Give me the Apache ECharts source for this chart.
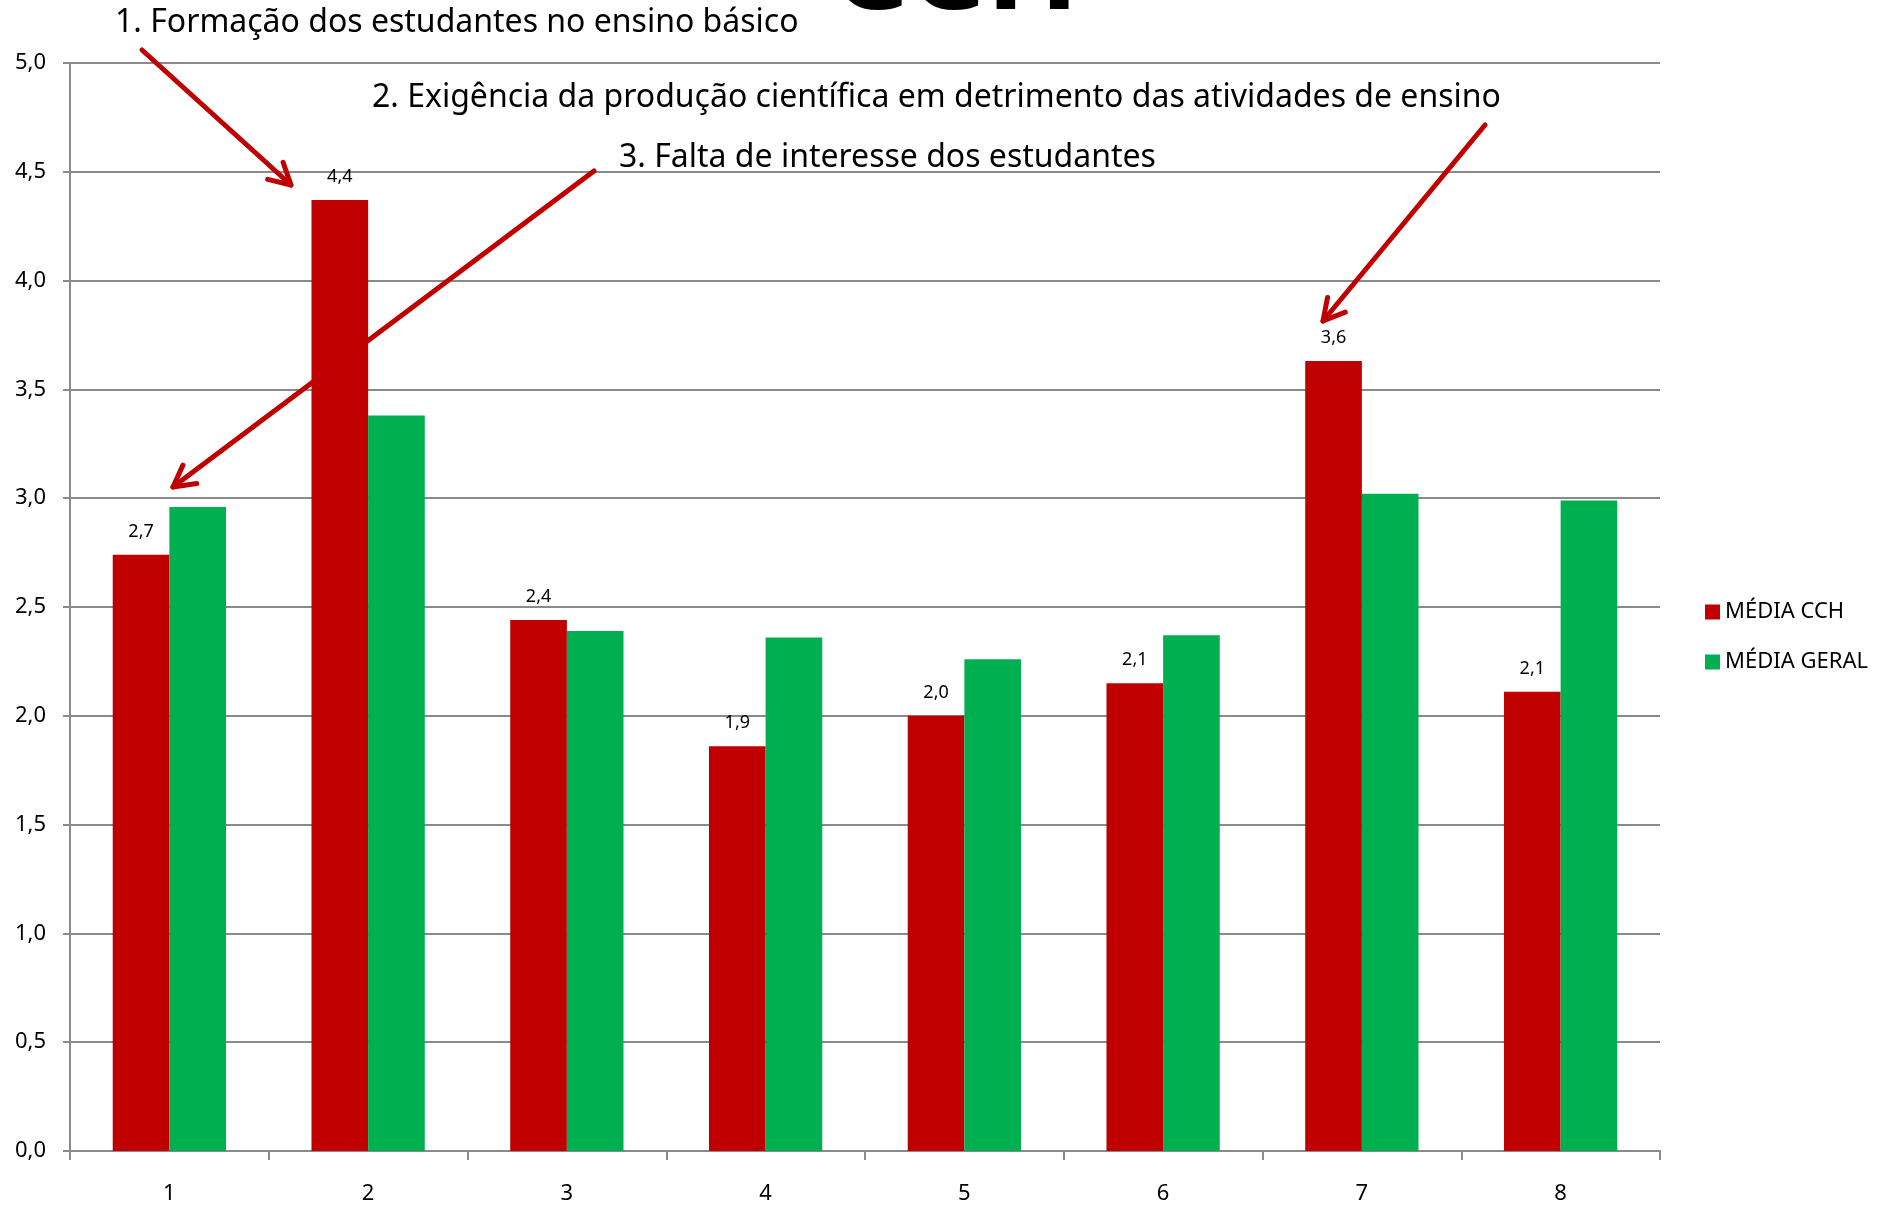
<!DOCTYPE html>
<html>
<head>
<meta charset="utf-8">
<script src="https://cdn.jsdelivr.net/npm/echarts@6/dist/echarts.min.js"></script>
<style>
  html, body { margin: 0; padding: 0; background: #fff; }
  #chart { width: 1898px; height: 1207px; }
</style>
</head>
<body>
<div id="chart"></div>
<script>
// dados
const categorias = ['1', '2', '3', '4', '5', '6', '7', '8'];
const mediaCCH = [2.74, 4.37, 2.44, 1.86, 2.0, 2.15, 3.63, 2.11];
const mediaGeral = [2.96, 3.38, 2.39, 2.36, 2.26, 2.37, 3.02, 2.99];
const nomesSeries = ['MÉDIA CCH', 'MÉDIA GERAL'];
const notas = [
  '1. Formação dos estudantes no ensino básico',
  '2. Exigência da produção científica em detrimento das atividades de ensino',
  '3. Falta de interesse dos estudantes'
];

const fonte = '"Noto Sans", "Open Sans", sans-serif';
const vermelho = '#c00000';
const verde = '#00b050';
const virgula = v => v.toFixed(1).replace('.', ',');

// seta com ponta aberta
function seta(x1, y1, x2, y2) {
  const ang = Math.atan2(y2 - y1, x2 - x1);
  const L = 24, a = 0.5;
  const p1 = [x2 - L * Math.cos(ang - a), y2 - L * Math.sin(ang - a)];
  const p2 = [x2 - L * Math.cos(ang + a), y2 - L * Math.sin(ang + a)];
  const st = { stroke: vermelho, lineWidth: 5, lineCap: 'round', lineJoin: 'round', fill: null };
  return [
    { type: 'line', shape: { x1: x1, y1: y1, x2: x2, y2: y2 }, style: st, z: 50 },
    { type: 'polyline', shape: { points: [p1, [x2, y2], p2] }, style: st, z: 50 }
  ];
}

const chart = echarts.init(document.getElementById('chart'));
chart.setOption({
  animation: false,
  backgroundColor: '#fff',
  grid: { left: 70, right: 238, top: 63, bottom: 56 },
  legend: {
    orient: 'vertical',
    left: 1700,
    top: 596,
    itemWidth: 15,
    itemHeight: 15,
    itemGap: 28,
    icon: 'rect',
    textStyle: { fontFamily: fonte, fontSize: 22, color: '#000' },
    data: nomesSeries
  },
  xAxis: {
    type: 'category',
    data: categorias,
    axisLine: { lineStyle: { color: '#8a8a8a', width: 2 } },
    axisTick: { show: true, length: 9, lineStyle: { color: '#8a8a8a', width: 2 } },
    axisLabel: { fontFamily: fonte, fontSize: 22, color: '#000', margin: 32 }
  },
  yAxis: {
    type: 'value',
    min: 0,
    max: 5,
    interval: 0.5,
    axisLine: { show: true, lineStyle: { color: '#8a8a8a', width: 2 } },
    axisTick: { show: true, length: 7, lineStyle: { color: '#8a8a8a', width: 2 } },
    axisLabel: { fontFamily: fonte, fontSize: 22, color: '#000', margin: 24, formatter: virgula },
    splitLine: { lineStyle: { color: '#8a8a8a', width: 2 } }
  },
  series: [
    {
      name: nomesSeries[0],
      type: 'bar',
      data: mediaCCH,
      itemStyle: { color: vermelho },
      barGap: '0%',
      barCategoryGap: '43%',
      label: {
        show: true,
        position: 'top',
        distance: 14,
        fontFamily: fonte,
        fontSize: 18,
        color: '#000',
        formatter: p => virgula(p.value)
      }
    },
    {
      name: nomesSeries[1],
      type: 'bar',
      data: mediaGeral,
      itemStyle: { color: verde },
      barGap: '0%',
      barCategoryGap: '43%'
    }
  ],
  graphic: [
    {
      type: 'text', left: 830, top: -88, z: 60,
      style: { text: 'CCH', fontFamily: fonte, fontWeight: 'bold', fontSize: 123, fill: '#000' }
    },
    {
      type: 'text', left: 115, top: 7, z: 60,
      style: { text: notas[0], fontFamily: fonte, fontSize: 32, fill: '#000' }
    },
    {
      type: 'text', left: 372, top: 82, z: 60,
      style: { text: notas[1], fontFamily: fonte, fontSize: 32, fill: '#000' }
    },
    {
      type: 'text', left: 619, top: 142, z: 60,
      style: { text: notas[2], fontFamily: fonte, fontSize: 32, fill: '#000' }
    },
    ...seta(142, 50, 291, 185),
    ...seta(594, 171, 173, 487),
    ...seta(1485, 125, 1323, 321)
  ]
});
</script>
</body>
</html>
